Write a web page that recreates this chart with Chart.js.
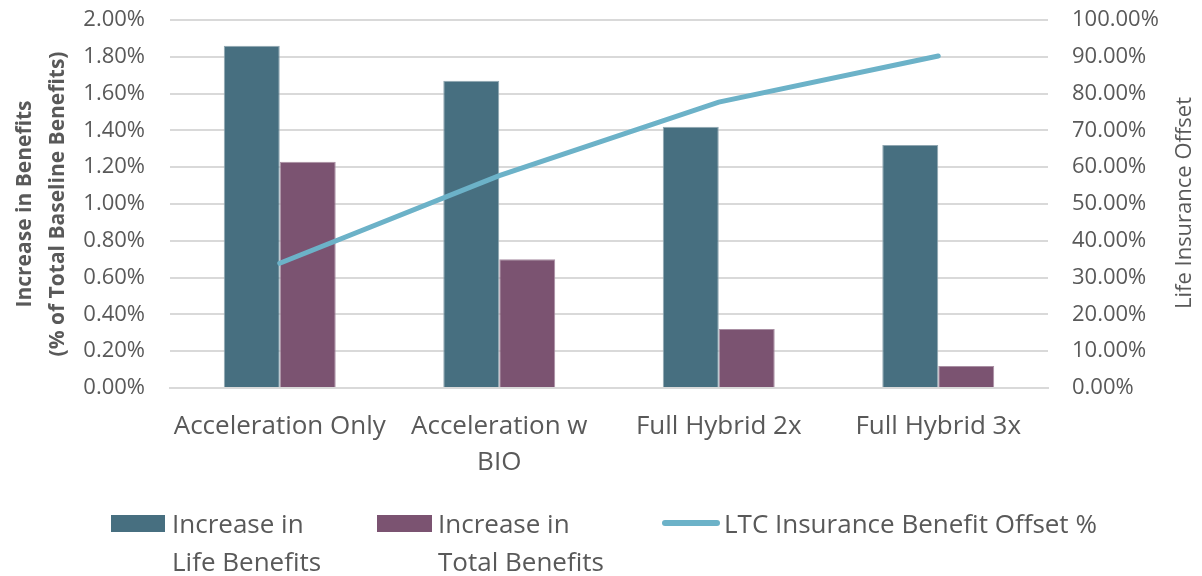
<html>
<head>
  <script src="https://cdn.jsdelivr.net/npm/chart.js"></script>
  <style>
    body { margin: 0; background: #fff; font-family: 'Open Sans'; }
    .wrap { position: relative; width: 1202px; height: 576px; }
    .lg { position: absolute; color: #595959; font-size: 26px; line-height: 38px; }
    .sw { position: absolute; }
  </style>
</head>
<body>
  <div class="wrap">
    <canvas id="comboChart" width="1202" height="576"></canvas>
    <div class="sw" style="left:111px;top:515px;width:54px;height:17px;background:#476f80"></div>
    <div class="lg" style="left:172px;top:504px">Increase in<br>Life Benefits</div>
    <div class="sw" style="left:377px;top:515px;width:55px;height:17px;background:#7b5371"></div>
    <div class="lg" style="left:438px;top:504px">Increase in<br>Total Benefits</div>
    <div class="sw" style="left:662px;top:520px;width:58px;height:6px;border-radius:3px;background:#6cb2c8"></div>
    <div class="lg" style="left:724px;top:504px">LTC Insurance Benefit Offset %</div>
  </div>
  <script>
    const categories = ['Acceleration Only', ['Acceleration w', 'BIO'], 'Full Hybrid 2x', 'Full Hybrid 3x'];
    const lifeBenefits = [1.86, 1.67, 1.42, 1.32];      // % of total baseline
    const totalBenefits = [1.23, 0.70, 0.32, 0.12];     // % of total baseline
    const offsetPct = [33.9, 57.7, 77.7, 90.2];         // right axis %

    const textColor = '#595959';
    const gridColor = '#d9d9d9';
    const noColor = 'rgba(0,0,0,0)';

    // right axis title reads bottom-to-top, so draw it ourselves
    const rightTitle = {
      id: 'rightTitle',
      afterDraw(chart) {
        const ctx = chart.ctx;
        ctx.save();
        ctx.translate(1185, 203);
        ctx.rotate(-Math.PI / 2);
        ctx.font = '22px "Open Sans"';
        ctx.fillStyle = textColor;
        ctx.textAlign = 'center';
        ctx.textBaseline = 'middle';
        ctx.fillText('Life Insurance Offset', 0, 0);
        ctx.restore();
      }
    };

    const ctx = document.getElementById('comboChart');
    new Chart(ctx, {
      data: {
        labels: categories,
        datasets: [{
          type: 'line',
          label: 'LTC Insurance Benefit Offset %',
          data: offsetPct,
          yAxisID: 'y1',
          borderColor: '#6cb2c8',
          borderWidth: 5,
          borderCapStyle: 'round',
          pointRadius: 0,
          tension: 0,
          order: 0
        }, {
          type: 'bar',
          label: 'Increase in Life Benefits',
          data: lifeBenefits,
          yAxisID: 'y',
          backgroundColor: '#476f80',
          borderColor: '#8fa6b1',
          borderWidth: 1,
          order: 1
        }, {
          type: 'bar',
          label: 'Increase in Total Benefits',
          data: totalBenefits,
          yAxisID: 'y',
          backgroundColor: '#7b5371',
          borderColor: '#a98fa3',
          borderWidth: 1,
          order: 1
        }]
      },
      options: {
        responsive: false,
        animation: false,
        categoryPercentage: 0.51,
        barPercentage: 1,
        layout: { padding: { top: 20, bottom: 0, left: 0, right: 0 } },
        plugins: {
          legend: { display: false },
          tooltip: { enabled: false }
        },
        scales: {
          x: {
            grid: { display: false, drawTicks: false },
            border: { display: true, color: gridColor, width: 2 },
            ticks: {
              color: textColor,
              padding: 20,
              maxRotation: 0,
              autoSkip: false,
              font: { family: 'Open Sans', size: 26, lineHeight: 1.4 }
            },
            afterFit: (s) => { s.height = 188; }
          },
          y: {
            position: 'left',
            min: 0,
            max: 2,
            grid: { color: gridColor, lineWidth: 2, tickLength: 22, tickColor: noColor },
            border: { display: false },
            ticks: {
              stepSize: 0.2,
              color: textColor,
              padding: 3,
              font: { family: 'Open Sans', size: 22 },
              callback: (v) => v.toFixed(2) + '%'
            },
            title: {
              display: true,
              text: ['Increase in Benefits', '(% of Total Baseline Benefits)'],
              color: textColor,
              padding: { top: 9, bottom: 0 },
              font: { family: 'Open Sans', size: 21, weight: 'bold', lineHeight: 1.55 }
            },
            afterFit: (s) => { s.width = 170; }
          },
          y1: {
            position: 'right',
            min: 0,
            max: 100,
            grid: { drawOnChartArea: false, color: noColor, tickLength: 21, tickColor: noColor },
            border: { display: false },
            ticks: {
              stepSize: 10,
              color: textColor,
              padding: 3,
              font: { family: 'Open Sans', size: 22 },
              callback: (v) => v.toFixed(2) + '%'
            },
            afterFit: (s) => { s.width = 154; }
          }
        }
      },
      plugins: [rightTitle]
    });
  </script>
</body>
</html>
